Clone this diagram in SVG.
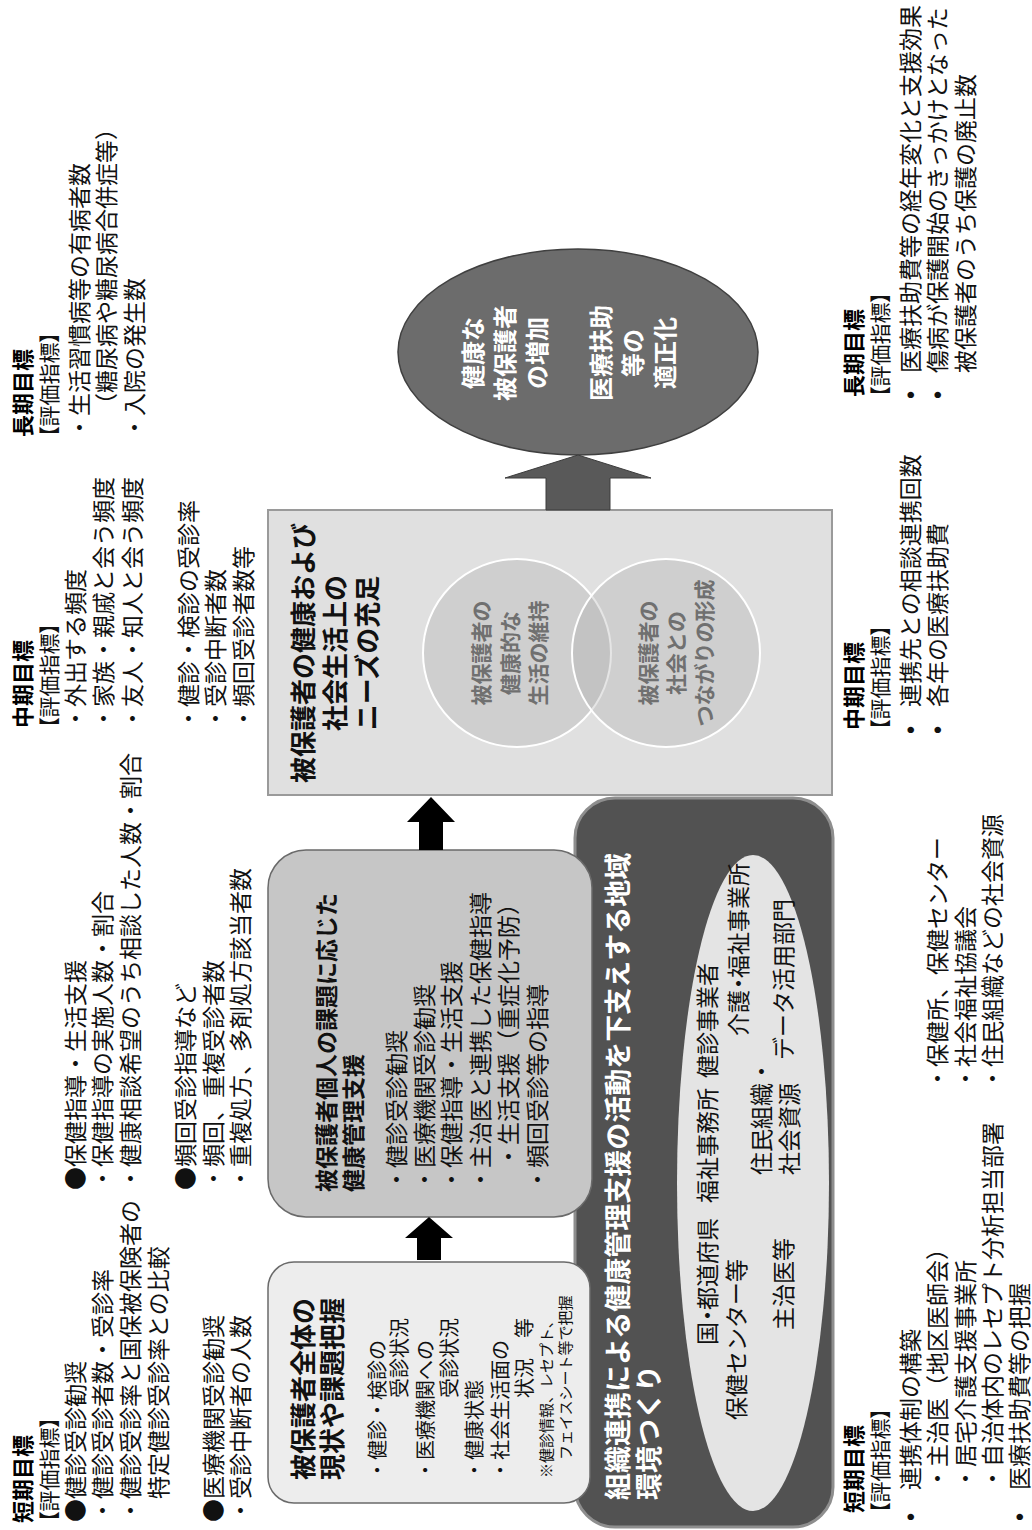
<svg xmlns="http://www.w3.org/2000/svg" width="1032" height="1530" viewBox="0 0 1032 1530">
<defs>
<style>
  text { font-family: "Noto Sans CJK JP", "Noto Sans CJK SC", sans-serif; fill: #111; }
  .tx { font-size: 23px; }
  .hd { font-size: 22px; font-weight: bold; fill: #000; }
  .ev { font-size: 21px; font-feature-settings: "palt"; }
  .bu { font-family: "Liberation Sans", sans-serif; font-size: 23px; }
  .a-title { font-size: 26px; font-weight: bold; }
  .a-body { font-size: 20px; }
  .a-note { font-size: 15px; }
  .c-title { font-size: 23px; font-weight: bold; }
  .c-body { font-size: 23px; }
  .e-title { font-size: 26px; font-weight: bold; text-anchor: middle; }
  .venn { font-size: 21px; font-weight: bold; fill: #707070; text-anchor: middle; }
  .goal { font-size: 24px; font-weight: bold; fill: #fff; text-anchor: middle; }
  .h-title { font-size: 27px; font-weight: bold; fill: #fff; }
  .org { font-size: 23px; fill: #111; }
  .arrow { fill: #000; }
  .arrow-dark { fill: #595959; stroke: #3c3c3c; stroke-width: 1; }
</style>
</defs>
<rect width="1032" height="1530" fill="#ffffff"/>
<!-- landscape layout, turned a quarter counter-clockwise onto the page -->
<g transform="translate(0,1530) rotate(-90)">

  <!-- community support base (drawn first, the two left boxes overlap it) -->
  <g id="community">
    <rect x="3" y="575" width="729" height="258" rx="40" fill="#525252" stroke="#8e8e8e" stroke-width="3"/>
    <text class="h-title" x="30" y="628">組織連携による健康管理支援の活動を下支えする地域</text>
    <text class="h-title" x="30" y="659">環境つくり</text>
    <ellipse cx="347" cy="753" rx="328" ry="76" fill="#e4e4e4"/>
    <text class="org" x="185" y="716">国<tspan dx="-5">・</tspan><tspan dx="-6">都道府県</tspan></text>
    <text class="org" x="327" y="716">福祉事務所</text>
    <text class="org" x="452" y="716">健診事業者</text>
    <text class="org" x="110" y="745">保健センター等</text>
    <text class="org" x="494" y="747">介護<tspan dx="-5">・</tspan><tspan dx="-6">福祉事業所</tspan></text>
    <text class="org" x="355" y="770">住民組織・</text>
    <text class="org" x="200" y="792">主治医等</text>
    <text class="org" x="355" y="798">社会資源</text>
    <text class="org" x="470" y="792">データ活用部門</text>
  </g>

  <!-- overall situation -->
  <g id="current-state">
    <rect x="27" y="268" width="241" height="322" rx="26" fill="#ededed" stroke="#6a6a6a" stroke-width="1.5"/>
    <text class="a-title" x="50" y="313">被保護者全体の</text>
    <text class="a-title" x="50" y="342">現状や課題把握</text>
    <text class="a-body" x="50" y="385">・健診・検診の</text>
    <text class="a-body" x="132" y="407">受診状況</text>
    <text class="a-body" x="50" y="433">・医療機関への</text>
    <text class="a-body" x="132" y="457">受診状況</text>
    <text class="a-body" x="50" y="482">・健康状態</text>
    <text class="a-body" x="50" y="508">・社会生活面の</text>
    <text class="a-body" x="132" y="532">状況　等</text>
    <text class="a-note" x="52" y="552">※健診情報、レセプト、</text>
    <text class="a-note" x="70" y="571">フェイスシート等で把握</text>
  </g>

  <!-- individual support -->
  <g id="individual-support">
    <rect x="313" y="268" width="367" height="324" rx="38" fill="#c6c6c6" stroke="#6a6a6a" stroke-width="1.5"/>
    <text class="c-title" x="338" y="335">被保護者個人の課題に応じた</text>
    <text class="c-title" x="338" y="362">健康管理支援</text>
    <text class="c-body" x="339" y="405">・健診受診勧奨</text>
    <text class="c-body" x="339" y="433">・医療機関受診勧奨</text>
    <text class="c-body" x="339" y="460">・保健指導・生活支援</text>
    <text class="c-body" x="339" y="489">・主治医と連携した保健指導</text>
    <text class="c-body" x="362" y="517">・生活支援（重症化予防）</text>
    <text class="c-body" x="339" y="546">・頻回受診等の指導</text>
  </g>

  <!-- needs fulfilment -->
  <g id="needs">
    <rect x="735" y="268" width="285" height="564" fill="#e0e0e0" stroke="#9a9a9a" stroke-width="2"/>
    <text class="e-title" x="877" y="313">被保護者の健康および</text>
    <text class="e-title" x="877" y="345">社会生活上の</text>
    <text class="e-title" x="877" y="377">ニーズの充足</text>
    <circle cx="877" cy="517" r="94" fill="#aaaaaa" fill-opacity="0.3" stroke="#ffffff" stroke-width="2"/>
    <circle cx="877" cy="666" r="94" fill="#aaaaaa" fill-opacity="0.3" stroke="#ffffff" stroke-width="2"/>
    <text class="venn" x="877" y="489">被保護者の</text>
    <text class="venn" x="877" y="518">健康的な</text>
    <text class="venn" x="877" y="546">生活の維持</text>
    <text class="venn" x="877" y="656">被保護者の</text>
    <text class="venn" x="877" y="684">社会との</text>
    <text class="venn" x="877" y="712">つながりの形成</text>
  </g>

  <!-- final outcome -->
  <g id="outcome">
    <ellipse cx="1178" cy="578" rx="103" ry="180" fill="#6c6c6c" stroke="#404040" stroke-width="1.5"/>
    <text class="goal" x="1177" y="482">健康な</text>
    <text class="goal" x="1177" y="514">被保護者</text>
    <text class="goal" x="1177" y="546">の増加</text>
    <text class="goal" x="1177" y="610">医療扶助</text>
    <text class="goal" x="1177" y="642">等の</text>
    <text class="goal" x="1177" y="674">適正化</text>
  </g>

  <g id="connectors">
    <polygon class="arrow" points="270,417 292,417 292,405 313,429 292,453 292,441 270,441"/>
    <polygon class="arrow" points="680,419 708,419 708,407 733,431 708,455 708,443 680,443"/>
    <polygon class="arrow-dark" points="1020,546 1052,546 1052,505 1075,578 1052,651 1052,610 1020,610"/>
  </g>

  <!-- indicators for the support flow (upper column) -->
  <g id="goals-short-individual">
    <text class="hd" x="7" y="31">短期目標</text>
    <text class="ev" x="8" y="57">【評価指標】</text>
    <text class="tx" x="8" y="84">●健診受診勧奨</text>
    <text class="tx" x="8" y="111">・健診受診者数・受診率</text>
    <text class="tx" x="8" y="139">・健診受診率と国保被保険者の</text>
    <text class="tx" x="31" y="167">特定健診受診率との比較</text>
    <text class="tx" x="8" y="222">●医療機関受診勧奨</text>
    <text class="tx" x="8" y="249">・受診中断者の人数</text>
    <text class="tx" x="340" y="84">●保健指導・生活支援</text>
    <text class="tx" x="340" y="111">・保健指導の実施人数・割合</text>
    <text class="tx" x="340" y="139">・健康相談希望のうち相談した人数・割合</text>
    <text class="tx" x="340" y="194">●頻回受診指導など</text>
    <text class="tx" x="340" y="222">・頻回、重複受診者数</text>
    <text class="tx" x="340" y="249">・重複処方、多剤処方該当者数</text>
  </g>

  <g id="goals-mid-individual">
    <text class="hd" x="802" y="31">中期目標</text>
    <text class="ev" x="802" y="57">【評価指標】</text>
    <text class="tx" x="800" y="84">・外出する頻度</text>
    <text class="tx" x="800" y="112">・家族・親戚と会う頻度</text>
    <text class="tx" x="800" y="141">・友人・知人と会う頻度</text>
    <text class="tx" x="800" y="197">・健診・検診の受診率</text>
    <text class="tx" x="800" y="224">・受診中断者数</text>
    <text class="tx" x="800" y="252">・頻回受診者数等</text>
  </g>

  <g id="goals-long-individual">
    <text class="hd" x="1093" y="31">長期目標</text>
    <text class="ev" x="1093" y="57">【評価指標】</text>
    <text class="tx" x="1091" y="88">・生活習慣病等の有病者数</text>
    <text class="tx" x="1114" y="115">（糖尿病や糖尿病合併症等）</text>
    <text class="tx" x="1091" y="143">・入院の発生数</text>
  </g>

  <!-- indicators for the community base (lower column) -->
  <g id="goals-short-community">
    <text class="hd" x="17" y="862">短期目標</text>
    <text class="ev" x="17" y="888">【評価指標】</text>
    <text class="bu" x="9" y="919">•</text>
    <text class="tx" x="40" y="919">連携体制の構築</text>
    <text class="tx" x="40" y="946">・主治医（地区医師会）</text>
    <text class="tx" x="40" y="974">・居宅介護支援事業所</text>
    <text class="tx" x="40" y="1001">・自治体内のレセプト分析担当部署</text>
    <text class="bu" x="9" y="1028">•</text>
    <text class="tx" x="40" y="1028">医療扶助費等の把握</text>
    <text class="tx" x="440" y="946">・保健所、保健センター</text>
    <text class="tx" x="440" y="974">・社会福祉協議会</text>
    <text class="tx" x="440" y="1001">・住民組織などの社会資源</text>
  </g>

  <g id="goals-mid-community">
    <text class="hd" x="800" y="862">中期目標</text>
    <text class="ev" x="800" y="888">【評価指標】</text>
    <text class="bu" x="796" y="919">•</text>
    <text class="tx" x="823" y="919">連携先との相談連携回数</text>
    <text class="bu" x="796" y="946">•</text>
    <text class="tx" x="823" y="946">各年の医療扶助費</text>
  </g>

  <g id="goals-long-community">
    <text class="hd" x="1133" y="862">長期目標</text>
    <text class="ev" x="1133" y="888">【評価指標】</text>
    <text class="bu" x="1131" y="919">•</text>
    <text class="tx" x="1157" y="919">医療扶助費等の経年変化と支援効果</text>
    <text class="bu" x="1131" y="946">•</text>
    <text class="tx" x="1157" y="946">傷病が保護開始のきっかけとなった</text>
    <text class="tx" x="1157" y="974">被保護者のうち保護の廃止数</text>
  </g>
</g>
</svg>
